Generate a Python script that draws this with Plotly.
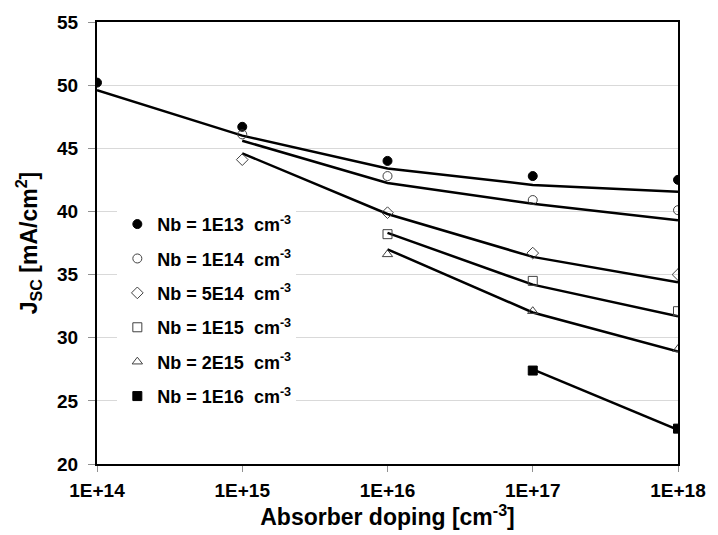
import plotly.graph_objects as go

# Absorber doping levels (cm^-3)
doping = [1e14, 1e15, 1e16, 1e17, 1e18]
tick_text = ["1E+14", "1E+15", "1E+16", "1E+17", "1E+18"]

# Simulated short-circuit current density (mA/cm^2) for each buffer doping Nb
labels = ["1E13", "1E14", "5E14", "1E15", "2E15", "1E16"]
jsc_1e13 = [50.2, 46.7, 44.0, 42.8, 42.5]
jsc_1e14 = [None, 46.1, 42.8, 40.9, 40.1]
jsc_5e14 = [None, 44.1, 39.9, 36.7, 35.0]
jsc_1e15 = [None, None, 38.2, 34.5, 32.1]
jsc_2e15 = [None, None, 36.6, 32.1, 29.1]
jsc_1e16 = [None, None, None, 27.4, 22.8]

# Trend lines drawn through each series
fit_1e13 = [49.6, 46.0, 43.4, 42.1, 41.55]
fit_1e14 = [None, 45.6, 42.25, 40.6, 39.3]
fit_5e14 = [None, 44.6, 39.8, 36.4, 34.4]
fit_1e15 = [None, None, 38.3, 34.2, 31.7]
fit_2e15 = [None, None, 37.0, 32.0, 28.9]
fit_1e16 = [None, None, None, 27.5, 22.7]

points = [jsc_1e13, jsc_1e14, jsc_5e14, jsc_1e15, jsc_2e15, jsc_1e16]
fits = [fit_1e13, fit_1e14, fit_5e14, fit_1e15, fit_2e15, fit_1e16]

symbols = ["circle", "circle-open", "diamond-open", "square-open",
           "triangle-up-open", "square"]
sizes = [9, 9, 9, 9, 9, 9]

FONT = "Liberation Sans, Arial, sans-serif"
NB = "\u00a0"

fig = go.Figure()

for lab, fit in zip(labels, fits):
    fig.add_trace(go.Scatter(
        x=doping, y=fit, mode="lines",
        line=dict(color="black", width=2.5),
        connectgaps=False, showlegend=False, hoverinfo="skip",
    ))

for i, (lab, pts) in enumerate(zip(labels, points)):
    filled = not symbols[i].endswith("open")
    fig.add_trace(go.Scatter(
        x=doping, y=pts, mode="markers",
        name=f"Nb = {lab}{NB}{NB}cm<sup>-3</sup>",
        legendgroup=f"g{i}",
        marker=dict(
            symbol=symbols[i], size=sizes[i],
            color="black" if filled else "#404040",
            line=dict(color="black" if filled else "#404040", width=1),
        ),
    ))

fig.update_layout(
    width=718, height=535,
    margin=dict(l=97, r=32, t=16, b=71),
    paper_bgcolor="white", plot_bgcolor="white",
    font=dict(family=FONT, color="black", size=19),
    legend=dict(
        x=0.035, y=0.584, xanchor="left", yanchor="top",
        bgcolor="white", borderwidth=0,
        font=dict(family=FONT, size=18, color="black", weight="bold"),
        tracegroupgap=8,
    ),
    xaxis=dict(
        type="log", range=[14, 18],
        tickvals=doping, ticktext=tick_text,
        tickfont=dict(size=19, weight="bold"),
        ticks="outside", ticklen=6, tickcolor="#909090",
        ticklabelstandoff=2,
        showgrid=False, zeroline=False,
        showline=True, linecolor="black", linewidth=2, mirror=True,
        title=dict(text="Absorber doping [cm<sup>-3</sup>]",
                   font=dict(size=23, weight="bold"), standoff=2),
    ),
    yaxis=dict(
        range=[20, 55], dtick=5,
        tickfont=dict(size=19, weight="bold"),
        ticks="outside", ticklen=7, tickcolor="#909090",
        ticklabelstandoff=6,
        showgrid=True, gridcolor="#d9d9d9", gridwidth=1,
        zeroline=False,
        showline=True, linecolor="black", linewidth=2, mirror=True,
        title=dict(text="J<sub>SC</sub> [mA/cm<sup>2</sup>]",
                   font=dict(size=23, weight="bold"), standoff=13),
    ),
)

fig.write_html("out.html")
